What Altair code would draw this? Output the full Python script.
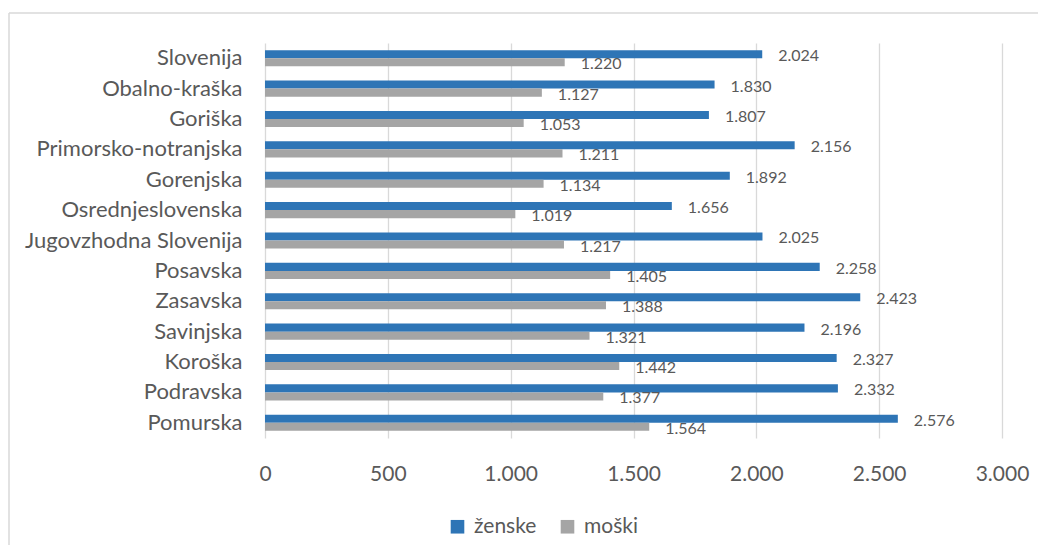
import altair as alt
import pandas as pd

regions = ["Slovenija", "Obalno-kraška", "Goriška", "Primorsko-notranjska", "Gorenjska",
           "Osrednjeslovenska", "Jugovzhodna Slovenija", "Posavska", "Zasavska",
           "Savinjska", "Koroška", "Podravska", "Pomurska"]
zenske = [2024, 1830, 1807, 2156, 1892, 1656, 2025, 2258, 2423, 2196, 2327, 2332, 2576]
moski = [1220, 1127, 1053, 1211, 1134, 1019, 1217, 1405, 1388, 1321, 1442, 1377, 1564]
series = ["ženske", "moški"]
colors = ["#2E75B6", "#A5A5A5"]

rows = []
for r, z, m in zip(regions, zenske, moski):
    rows.append({"regija": r, "spol": series[0], "vrednost": z})
    rows.append({"regija": r, "spol": series[1], "vrednost": m})
df = pd.DataFrame(rows)

FONT = "Lato"
TXT = "#595959"

base = alt.Chart(df).encode(
    y=alt.Y("regija:N", sort=regions, title=None,
            scale=alt.Scale(paddingInner=0.47, paddingOuter=0.235),
            axis=alt.Axis(domain=False, ticks=False, grid=False, labelPadding=23,
                          labelFontSize=22, labelColor=TXT, labelFont=FONT, labelLimit=400)),
    yOffset=alt.YOffset("spol:N", sort=series),
)

bars = base.mark_bar().encode(
    x=alt.X("vrednost:Q", title=None,
            scale=alt.Scale(domain=[0, 3000]),
            axis=alt.Axis(values=[0, 500, 1000, 1500, 2000, 2500, 3000],
                          labelExpr="replace(format(datum.value, ','), ',', '.')",
                          domain=False, ticks=False, grid=True, gridColor="#D9D9D9",
                          gridWidth=1.3, labelPadding=25, labelFontSize=21,
                          labelFlush=False,
                          labelColor=TXT, labelFont=FONT)),
    color=alt.Color("spol:N", sort=series,
                    scale=alt.Scale(domain=series, range=colors),
                    legend=alt.Legend(title=None, orient="none", legendX=182, legendY=473,
                                      direction="horizontal", symbolType="square",
                                      symbolSize=185, symbolStrokeWidth=0,
                                      labelFontSize=21, labelColor=TXT, labelFont=FONT,
                                      columnPadding=20, labelOffset=6, padding=0)),
)

labels = base.mark_text(align="left", baseline="middle", dx=16, dy=2, fontSize=16,
                        color=TXT, font=FONT).transform_calculate(
    lbl="replace(format(datum.vrednost, ','), ',', '.')"
).encode(
    x="vrednost:Q",
    text="lbl:N",
)

frame = alt.Data(values=[{}])
border_top = alt.Chart(frame).mark_rule(color="#D9D9D9", strokeWidth=1.5).encode(
    x=alt.value(-256), x2=alt.value(775), y=alt.value(-30)
)
border_left = alt.Chart(frame).mark_rule(color="#D9D9D9", strokeWidth=1.5).encode(
    x=alt.value(-256), y=alt.value(-30), y2=alt.value(520)
)

chart = alt.layer(border_top, border_left, bars, labels).properties(
    width=737, height=395,
    autosize=alt.AutoSizeParams(type="none"),
    padding={"left": 257, "top": 35, "right": 36, "bottom": 107},
).configure(font=FONT).configure_view(strokeWidth=0, stroke="transparent")

chart.save("out.html", embed_options={"renderer": "svg", "actions": False})
